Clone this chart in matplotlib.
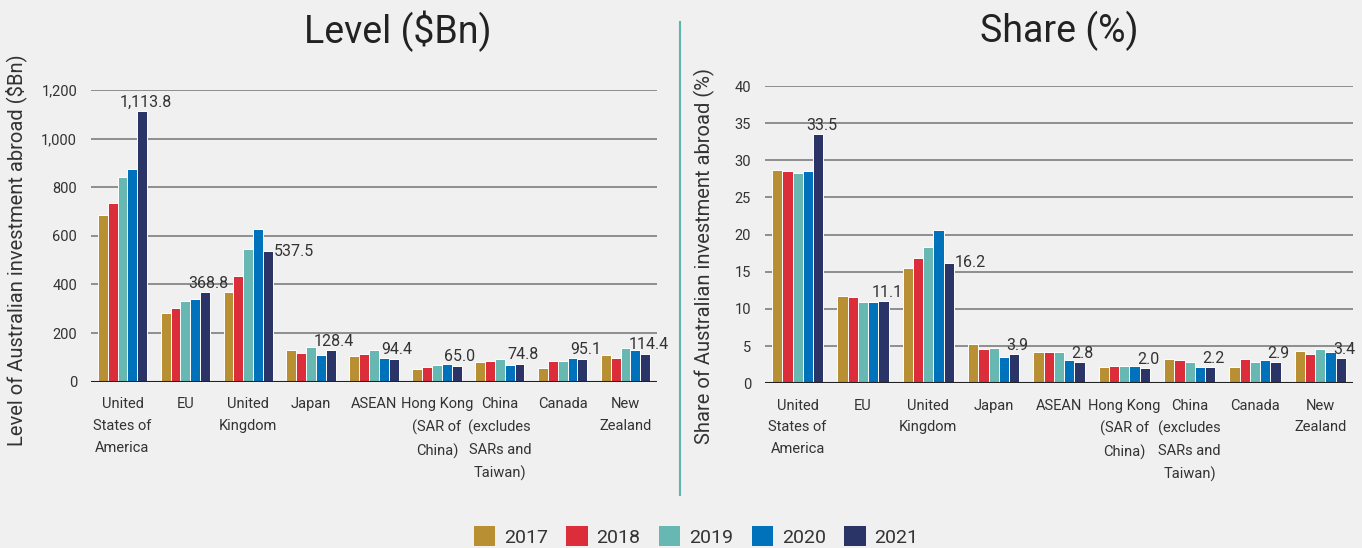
import matplotlib
matplotlib.use("Agg")
import matplotlib.pyplot as plt
import numpy as np
from matplotlib.lines import Line2D
from matplotlib.patches import Patch

categories = ["United\nStates of\nAmerica", "EU", "United\nKingdom", "Japan", "ASEAN",
              "Hong Kong\n(SAR of\nChina)", "China\n(excludes\nSARs and\nTaiwan)", "Canada",
              "New\nZealand"]
years = ["2017", "2018", "2019", "2020", "2021"]

level = {
    "2017": [686, 283, 370, 130, 106, 53, 80, 55, 111],
    "2018": [737, 302, 433, 118, 112, 62, 86, 86, 99],
    "2019": [844, 333, 547, 144, 130, 69, 93, 86, 137],
    "2020": [875, 340, 628, 111, 99, 74, 69, 99, 130],
    "2021": [1113.8, 368.8, 537.5, 128.4, 94.4, 65.0, 74.8, 95.1, 114.4],
}
share = {
    "2017": [28.7, 11.7, 15.5, 5.3, 4.2, 2.15, 3.3, 2.15, 4.4],
    "2018": [28.5, 11.6, 16.8, 4.6, 4.2, 2.3, 3.1, 3.3, 3.9],
    "2019": [28.3, 11.0, 18.3, 4.75, 4.2, 2.3, 2.9, 2.9, 4.6],
    "2020": [28.5, 11.0, 20.6, 3.6, 3.1, 2.3, 2.15, 3.1, 4.2],
    "2021": [33.5, 11.1, 16.2, 3.9, 2.8, 2.0, 2.2, 2.9, 3.4],
}
level_ticks = [0, 200, 400, 600, 800, 1000, 1200]
share_ticks = [0, 5, 10, 15, 20, 25, 30, 35, 40]

colors = ["#b88f32", "#dc2e3a", "#67b8b2", "#0071bb", "#2b3467"]
BG = "#eff0ef"
TXT = "#333333"
SANS = ["Roboto", "DejaVu Sans"]

W, H = 1362, 548
fig = plt.figure(figsize=(W / 100, H / 100), dpi=100, facecolor=BG)
ax1 = fig.add_axes([91 / W, (H - 381.7) / H, 566 / W, 291.7 / H])
ax2 = fig.add_axes([765 / W, (H - 383.3) / H, 588 / W, 297.3 / H])

bw = 0.157
x = np.arange(len(categories))


def draw(ax, data, ticks, fmt, ylabel, right_label_idx, dy, ylab_xy):
    ax.set_facecolor(BG)
    for i, y in enumerate(years):
        ax.bar(x + (i - 2) * bw, data[y], width=bw, color=colors[i],
               edgecolor="white", linewidth=0.7, zorder=3)
    last = data["2021"]
    for j, v in enumerate(last):
        xb = x[j] + 2 * bw
        if j == right_label_idx:
            ax.text(xb + bw * 0.6, v, fmt(v), ha="left", va="center",
                    fontsize=11.5, color=TXT, family=SANS, zorder=4)
        else:
            ax.text(xb + 0.05, v + dy, fmt(v), ha="center", va="bottom",
                    fontsize=11.5, color=TXT, family=SANS, zorder=4)
    ax.set_ylim(ticks[0], ticks[-1])
    ax.set_xlim(-0.5, len(categories) - 0.5)
    ax.set_yticks(ticks)
    ax.set_yticklabels([f"{t:,}" for t in ticks], family=SANS, fontsize=10.5, color=TXT)
    for t in ticks[1:]:
        ax.axhline(t, color="#7d7d7d", linewidth=1.2, zorder=1)
    ax.axhline(0, color="#222222", linewidth=1.5, zorder=4)
    ax.set_xticks(x)
    ax.set_xticklabels(categories, family=SANS, fontsize=10.5, color=TXT,
                       linespacing=1.72, va="top")
    ax.tick_params(axis="x", length=0, pad=11)
    ax.tick_params(axis="y", length=0, pad=10)
    for s in ax.spines.values():
        s.set_visible(False)
    ax.set_ylabel(ylabel, family=SANS, fontsize=14.5, color=TXT)
    ax.yaxis.set_label_coords(*ylab_xy)


draw(ax1, level, level_ticks, lambda v: f"{v:,.1f}",
     "Level of Australian investment abroad ($Bn)", 2, 6,
     ((27 - 91) / 566, (381.7 - 250) / 291.7))
draw(ax2, share, share_ticks, lambda v: f"{v:.1f}",
     "Share of Australian investment abroad (%)", 2, 0.15,
     ((715 - 765) / 588, (383.3 - 256) / 297.3))

fig.text(398 / W, 1 - 31 / H, "Level ($Bn)", family=SANS, fontsize=27,
         color="#222222", ha="center", va="center")
fig.text(1059 / W, 1 - 31 / H, "Share (%)", family=SANS, fontsize=27,
         color="#222222", ha="center", va="center")

# divider between the two panels
fig.add_artist(Line2D([680 / W, 680 / W], [(H - 22) / H, (H - 495) / H],
                      color="#5fb5ae", linewidth=1.5))

handles = [Patch(facecolor=c, edgecolor="none") for c in colors]
leg = fig.legend(handles, years, loc="lower center", bbox_to_anchor=(696 / W, -0.03),
                 ncol=5, frameon=False, handlelength=1.1, handleheight=1.2,
                 handletextpad=0.45, columnspacing=0.95,
                 prop={"family": SANS, "size": 14})
for t in leg.get_texts():
    t.set_color(TXT)

fig.savefig("out.png", dpi=100, facecolor=BG)
